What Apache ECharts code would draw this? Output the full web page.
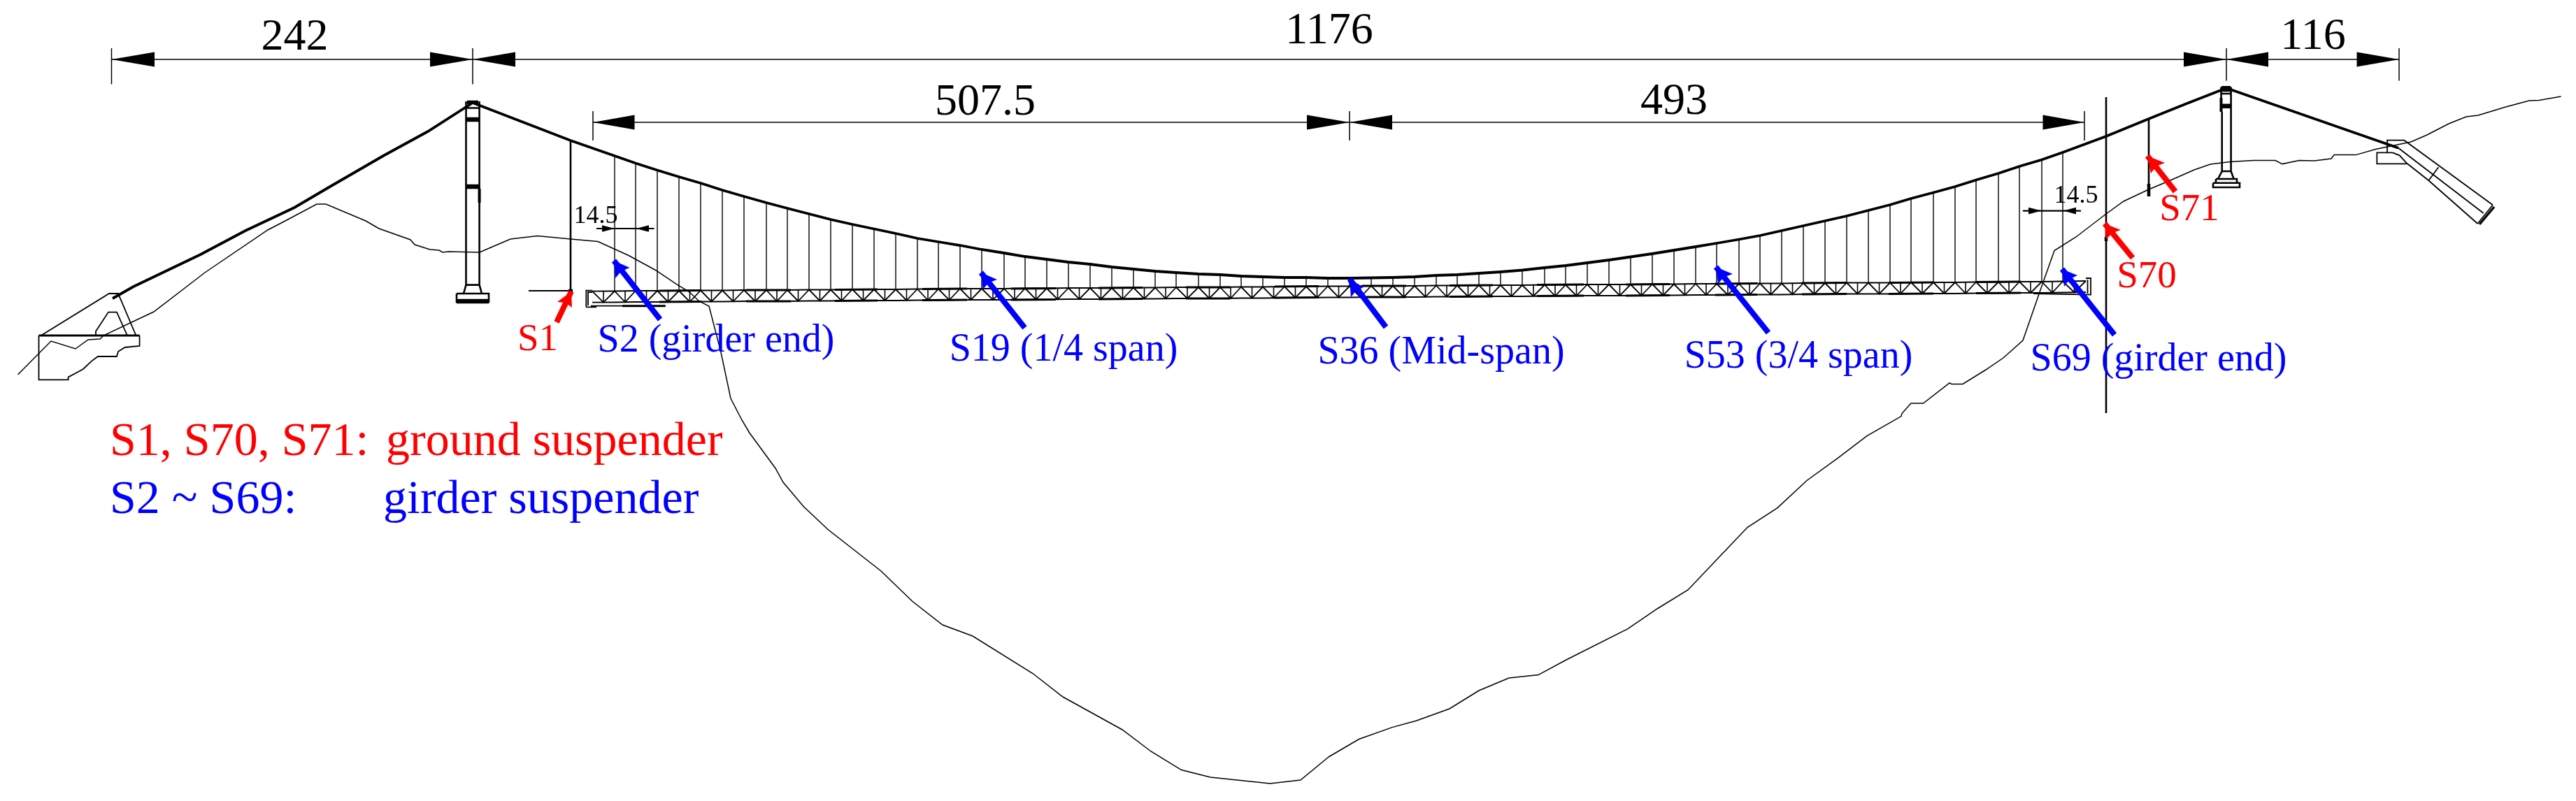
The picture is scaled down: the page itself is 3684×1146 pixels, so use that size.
<!DOCTYPE html>
<html><head><meta charset="utf-8">
<style>html,body{margin:0;padding:0;background:#fff;overflow:hidden}#c{width:3684px;height:1146px}</style>
<script src="https://cdn.jsdelivr.net/npm/echarts@6/dist/echarts.min.js"></script>
</head><body><div id="c"></div>
<script>
// Drawing units: 1 unit = one pixel of the scanned elevation drawing.
const hangerX = [879,909,940,971,1002,1033,1064,1096,1126,1157,
1188,1219,1250,1281,1312,1342,1373,1404,1436,1466,
1497,1528,1559,1590,1621,1652,1682,1714,1745,1775,
1806,1837,1868,1899,1930,1961,1992,2023,2054,2084,
2115,2146,2177,2209,2239,2270,2301,2332,2363,2394,
2425,2455,2487,2517,2548,2579,2610,2641,2672,2703,
2733,2765,2796,2826,2858,2888,2920,2950];
const cableY = [223,233.5,243.5,253,262,272,281,290,298,306,
314,321,327.5,334,341,346,351,357,362,367,
371,375,378,382,385,388,390,392,393,395,
396,397,397,398,398,397.5,397,396,394,393,
391,389,386.5,383,380,376,372,367.5,363,358,
353,348,342.5,337,330,323,316,309,301,293,
284,275.5,267,257.5,248,238,228.5,218];
const girderTopY = [416.5,416,416,416,415.5,415.5,415,415,415,414.5,
414.5,414,414,414,413.5,413.5,413,413,413,412.5,
412.5,412,412,412,411.5,411.5,411,411,411,410.5,
410.5,410,410,409.5,409.5,409,409,409,408.5,408.5,
408,408,408,407.5,407.5,407,407,407,406.5,406.5,
406,406,406,405.5,405.5,405,405,404.5,404.5,404.5,
404,404,404,403.5,403.5,403,403,402.5];
const girderDepth = 16;
const girderEnds = [[847,416.7],[2983,402]];
const thickChordRanges = [[943,1003],[1067,1131],[1194,1255],[1319,1383],[1446,1510],[1571,1634],[1696,1759],[1823,1886],[1948,2011],[2073,2135],[2198,2265],[2325,2388],[2453,2513],[2577,2641],[2701,2765],[2826,2890]];

const backStayLeft = [[161,427],[191,410],[287,364],[351,330],[421,297],[472,267],[548,223],[612,188],[676,147]];
const cableLeftEnd = [[676,147],[816,201]];
const cableRightEnd = [[2950,218],[3012,195],[3073,170],[3127,148.3],[3184,126]];
const backStayRight = [[3184,126],[3430,211.7]];

const terrainWest = [[25.5,536],[73,488],[108,499],[126,486],[143,485],[148,480],[220,446],[293,390],[383,329],[408,316],[453,292],[466,292],[523,316],[542,327],[587,343],[593,350],[615,357],[628,358],[633,361],[641,360],[686,361],[702,354],[730,342],[768.5,337.5],[816,342],[855,345.6],[899,365.5],[937.5,386.5],[969,407.6],[985,417],[1000,431],[1014,438],[1031,504],[1045,570],[1061,601],[1072,619.5],[1109,670],[1120,690],[1149,724.6],[1184,757.5],[1260,817],[1305,860.5],[1348,894],[1391,910],[1477,963.5],[1520,997],[1605,1044],[1646,1075],[1689.5,1101.6],[1731,1112],[1816.5,1121],[1860,1116],[1900,1083]];
const terrainEast = [[1900,1083],[1943.5,1057.5],[1991,1040.6],[2026,1031],[2073,1014],[2115,988],[2158,970],[2200,965.6],[2240,944],[2328,899.7],[2370,871],[2414,844],[2461,794.6],[2499,754.6],[2542,726.6],[2584,687.5],[2628,655.7],[2670,623.6],[2719,595.6],[2720,591.5],[2733,577],[2750.5,577],[2788,548],[2791,549.5],[2807,549.5],[2840,529],[2865,512],[2893,487],[2918,415],[2938,358.6],[2969,339],[3012,306],[3037,288],[3073,271],[3104,258],[3138,243],[3161,235],[3189,231.5],[3223,229.6],[3254,229.6],[3264,234.6],[3288,229.6],[3310,230],[3334,227],[3338,221.6],[3369,221.6],[3397.5,213.5],[3448,203],[3471,193],[3502,177],[3527,167],[3544,165],[3583.5,153],[3617,144],[3631,143.5],[3662.5,138]];

const groundSuspenders = [[[816,201],[816,416]],[[3012,139],[3012,591]],[[3073,170],[3073,281]]];
const groundStub = [[756,416],[816,416]];
const groundEndMarks = [[[3073,263],[3073,281]],[[813,416],[819,416]],[[3012,339],[3012,345]]];

const dimLines = [[[159.5,85],[3431,85]],[[848,175],[2981,175]]];
const smallDimLines = [[[853,327],[935.6,327]],[[2893,301.6],[2976,301.6]]];
const dimExt = [[[159.5,69],[159.5,120.5]],[[676,69],[676,120.5]],[[3184,69],[3184,115.5]],[[3431,69],[3431,115.5]],[[848,159],[848,201]],[[1930,159],[1930,201]],[[2981,159],[2981,201]]];
const bigDimArrows = [[159.5,85,221],[676,85,615],[676,85,737],[3184,85,3123],[3184,85,3244],[3431,85,3370.5],[848,175,907.5],[1930,175,1869],[1930,175,1991],[2981,175,2921.5]];
const smallDimArrows = [[879,327,861],[909.5,327,928],[2919.5,301.6,2901],[2951,301.6,2969]];

const outlineThin = [
 [[55.5,480],[55.5,543.4],[97.6,543.4],[97.6,539.6],[108,534],[119,528],[131,516.6],[140,510],[167,510],[169,503],[178.6,497],[199.6,495],[199.6,480]],
 [[58.7,480],[156,420],[169,420],[194.5,480]],
 [[137,480],[137,474],[155,446.6],[167,446.6],[182,480]],
 [[838.3,439.3],[838.3,415.7],[847,415.7]],[[841,437],[841,418],[847,418]],[[838.3,439.3],[853,439.3]],[[845,437.7],[951.7,437.7]],
 [[2983,398],[2990,398],[2990,421.7],[2908,420]],[[2985.5,400],[2985.5,420]],
 [[3414,218.3],[3414,200.7],[3438.3,200.7],[3565,293.3]],
 [[3421.7,218.3],[3399.3,218.3],[3399.3,234.3],[3441.7,234.3]],
 [[3421.7,218.3],[3431.7,222.3],[3441.7,233.3],[3473.3,258.3],[3543.3,320]],
 [[3430,211.7],[3551.7,305]],
 [[3487.3,239.3],[3473.3,258.3]],
 [[3565,293.3],[3543.3,320]]
];
const anchorEndHatch = [[3567,296],[3546,321]];
const anchorThickBase = [[55.5,480],[199.6,480]];
const girderPlate = [[890,437.7],[951.7,437.7]];

const towerOutline = [
 [[666.5,145],[666.5,407.6]],[[685.6,145],[685.6,407.6]],
 [[668,145],[684,145]],[[666.5,154.5],[685.6,154.5]],
 [[666.5,407.6],[685.6,407.6]],[[666.5,407.6],[663,420]],[[685.6,407.6],[689,420]],
 [[653,420],[699,420],[699,432],[653,432],[653,420]],
 [[3176.5,124.4],[3176.5,160]],[[3190.6,124.4],[3190.6,245]],[[3177.7,160],[3177.7,245]],
 [[3177,124.4],[3190,124.4]],[[3177,130],[3190,130]],[[3176.5,134],[3190.6,134]],
 [[3177.7,245],[3190.6,245]],[[3177.7,245],[3172,256]],[[3190.6,245],[3194.6,256]],
 [[3169,256],[3199,256],[3199,261.7],[3169,261.7],[3169,256]],[[3165,261.7],[3203,261.7],[3203,268],[3165,268],[3165,261.7]]
];
const towerBars = [[[666.5,171],[685.6,171]],[[666.5,267],[685.6,267]],[[3176.5,151.7],[3190.6,151.7]],[[653,431],[699,431]]];
const towerCaps = [[[668,147],[684,147]],[[3177,127],[3190,127]],[[685.6,270],[685.6,290]],[[3176.5,140],[3176.5,160]]];

const redArrows = [
 {tail:[796,461],tip:[817,417],a:[797,432],b:[818,440]},
 {tail:[3050,369],tip:[3010,320],a:[3033,329],b:[3012,342.5]},
 {tail:[3111,274],tip:[3071,223],a:[3096,233],b:[3076,248]}];
const blueArrows = [
 {tail:[944,457],tip:[878,373],a:[900.5,383],b:[880,398]},
 {tail:[1465.5,469],tip:[1403,390],a:[1426,400],b:[1405.6,414]},
 {tail:[1982,468],tip:[1930,399],a:[1950,411],b:[1932,425.6]},
 {tail:[2529,476],tip:[2454,382],a:[2478,392],b:[2457,406]},
 {tail:[3024,479],tip:[2949,385],a:[2971,394],b:[2952,410]}];

const dimLabels = [["242",421.5,72],["1176",1901,63],["507.5",1409,165],["493",2394,164.5],["116",3308,71.5]];
const spacingLabels = [["14.5",852,320],["14.5",2969,291]];
const redLabels = [["S1",769,502],["S70",3070,412.5],["S71",3131,316]];
const blueLabels = [["S2 (girder end)",1024,504],["S19 (1/4 span)",1521,517],["S36 (Mid-span)",2061,521],["S53 (3/4 span)",2572,527],["S69 (girder end)",3087,531]];
const noteRed = [["S1, S70, S71:",157,653],["ground suspender",552,653]];
const noteBlue = [["S2 ~ S69:",157,736],["girder suspender",548,736]];

const GAP = ['-','-'];
const flat = segs => { const o=[]; segs.forEach((s,i)=>{ if(i) o.push(GAP); s.forEach(p=>o.push(p)); }); return o; };
const line = (name,segs,width,color) => ({type:'line',name,data:flat(segs),symbol:'none',silent:true,animation:false,clip:false,connectNulls:false,z:2,
  lineStyle:{width,color:color||'#000',cap:'butt',join:'miter'}});
const hangers = hangerX.map((x,i)=>[[x,cableY[i]],[x,girderTopY[i]]]);
const cable = [...cableLeftEnd, ...hangerX.map((x,i)=>[x,cableY[i]]), ...cableRightEnd.slice(1)];
const topChord = [girderEnds[0], ...hangerX.map((x,i)=>[x,girderTopY[i]]), girderEnds[1]];
const bottomChord = topChord.map(p=>[p[0],p[1]+girderDepth]);
const truss = [], verticals = [];
for(let i=0;i<topChord.length-1;i++){
  const mx=(topChord[i][0]+topChord[i+1][0])/2, my=(topChord[i][1]+topChord[i+1][1])/2;
  truss.push([topChord[i],[mx,my+girderDepth],topChord[i+1]]);
  verticals.push([[mx,my],[mx,my+girderDepth]]);
}
const topAt = x => { let b=0; topChord.forEach((p,i)=>{ if(Math.abs(p[0]-x)<Math.abs(topChord[b][0]-x)) b=i; }); return topChord[b][1]; };
const thickTop = thickChordRanges.map(r=>[[r[0],topAt(r[0])],[r[1],topAt(r[1])]]);
const thickBottom = thickChordRanges.map(r=>[[r[0],topAt(r[0])+girderDepth],[r[1],topAt(r[1])+girderDepth]]);

const polys = [];
bigDimArrows.forEach(a=>polys.push({c:'#000',p:[[a[0],a[1]],[a[2],a[1]-10.4],[a[2],a[1]+10.4]]}));
smallDimArrows.forEach(a=>polys.push({c:'#000',p:[[a[0],a[1]],[a[2],a[1]-4.8],[a[2],a[1]+4.8]]}));
const head = (o,c)=>{ const n=[o.tip[0]+((o.a[0]+o.b[0])/2-o.tip[0])*0.85,o.tip[1]+((o.a[1]+o.b[1])/2-o.tip[1])*0.85];
  polys.push({c,p:[o.tip,o.a,n,o.b]}); };
redArrows.forEach(o=>head(o,'#ff0000'));
blueArrows.forEach(o=>head(o,'#0000ff'));

const texts = [];
const addText = (arr,color,size,align)=>arr.forEach(t=>texts.push({t:t[0],x:t[1],y:t[2],color,size,align}));
addText(dimLabels,'#000',64,'center');
addText(spacingLabels,'#000',36,'center');
addText(redLabels,'#ff0000',55,'center');
addText(blueLabels,'#0000ff',56,'center');
addText(noteRed,'#ff0000',68,'left');
addText(noteBlue,'#0000ff',68,'left');

const option = {
  animation:false, backgroundColor:'#fff',
  grid:{left:0,right:0,top:0,bottom:0},
  xAxis:{type:'value',min:0,max:3684,show:false},
  yAxis:{type:'value',min:0,max:1146,inverse:true,show:false},
  series:[
    line('terrain west',[terrainWest],1.5),
    line('terrain east',[terrainEast],1.5),
    line('hangers',hangers,1.4),
    line('truss',truss,1.8),
    line('truss verticals',verticals,1.6),
    line('top chord',[topChord],1.8),
    line('bottom chord',[bottomChord],1.8),
    line('thick top',thickTop,3.2),
    line('thick bottom',thickBottom,3.2),
    line('main cable',[cable],3.8),
    line('back stay left',[backStayLeft],3.8),
    line('back stay right',[backStayRight],3.8),
    line('ground suspenders',groundSuspenders,2.6),
    line('ground stub',[groundStub],1.8),
    line('ground end marks',groundEndMarks,4.5),
    line('dim lines',dimLines,1.6),
    line('small dim lines',smallDimLines,2.2),
    line('dim ext',dimExt,1.5),
    line('details',outlineThin,1.8),
    line('anchor base',[anchorThickBase],3),
    line('anchor hatch',[anchorEndHatch],3.2),
    line('plate',[girderPlate],3),
    line('towers',towerOutline,2.6),
    line('tower bars',towerBars,6.5),
    line('tower caps',towerCaps,4),
    line('red shafts',redArrows.map(o=>[o.tail,o.tip]),8,'#ff0000'),
    line('blue shafts',blueArrows.map(o=>[o.tail,o.tip]),8,'#0000ff'),
    {type:'custom',name:'arrow heads',silent:true,animation:false,clip:false,z:3,
     data:polys.map((o,i)=>[o.p[0][0],o.p[0][1],i]),
     renderItem:(p,api)=>{const o=polys[api.value(2)];return {type:'polygon',shape:{points:o.p.map(q=>api.coord(q))},style:{fill:o.c,stroke:null}};}},
    {type:'custom',name:'labels',silent:true,animation:false,clip:false,z:4,
     data:texts.map((o,i)=>[o.x,o.y,i]),
     renderItem:(p,api)=>{const o=texts[api.value(2)];const c=api.coord([o.x,o.y]);
       return {type:'text',x:c[0],y:c[1]-o.size*0.285,style:{text:o.t,fill:o.color,font:o.size+'px "Liberation Serif"',align:o.align,verticalAlign:'middle'}};}}
  ]
};
echarts.init(document.getElementById('c')).setOption(option);
</script></body></html>
